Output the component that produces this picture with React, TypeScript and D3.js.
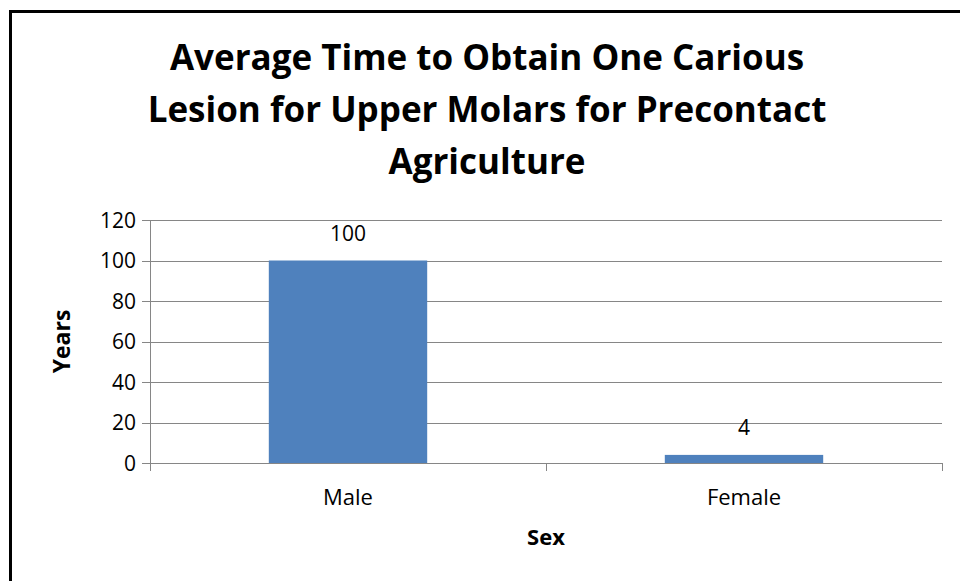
import React from 'react';
import * as d3 from 'd3';

const categories = ['Male', 'Female'];
const years = [100, 4];
const yTicks = [0, 20, 40, 60, 80, 100, 120];
const titleLines = [
  'Average Time to Obtain One Carious',
  'Lesion for Upper Molars for Precontact',
  'Agriculture',
];

const W = 960;
const H = 581;
const plot = { left: 150, right: 942, top: 220, bottom: 463 };
const font = "'Open Sans', 'Liberation Sans', sans-serif";
const gridColor = '#868686';

const App: React.FC = () => {
  const x = d3.scaleBand<string>()
    .domain(categories)
    .range([plot.left, plot.right])
    .paddingInner(0.6)
    .paddingOuter(0.3);
  const y = d3.scaleLinear().domain([0, 120]).range([plot.bottom, plot.top]);

  const step = x.step();
  // category boundaries for the tick marks on the x axis
  const bounds = [plot.left, ...categories.map((c) => (x(c) ?? 0) - step * 0.3 + step)];

  return (
    <div style={{ position: 'absolute', left: 0, top: 0 }}>
      <svg width={W} height={H} style={{ display: 'block', background: '#fff' }} fontFamily={font}>
        <rect x={10.5} y={11.5} width={W + 20} height={H + 20} fill="#fff" stroke="#000" strokeWidth={3} />

        {titleLines.map((t, i) => (
          <text key={t} x={487} y={70 + i * 52} textAnchor="middle" fontSize={35} fontWeight="bold" fill="#000">
            {t}
          </text>
        ))}

        {/* gridlines */}
        {yTicks.map((t) => (
          <line key={t} x1={plot.left - 8} x2={plot.right} y1={Math.round(y(t)) + 0.5} y2={Math.round(y(t)) + 0.5}
            stroke={gridColor} strokeWidth={1} />
        ))}
        {/* y axis */}
        <line x1={plot.left + 0.5} x2={plot.left + 0.5} y1={plot.top} y2={plot.bottom + 8} stroke={gridColor} strokeWidth={1} />
        {bounds.map((b, i) => (
          <line key={i} x1={Math.round(b) + 0.5} x2={Math.round(b) + 0.5} y1={plot.bottom} y2={plot.bottom + 8}
            stroke={gridColor} strokeWidth={1} />
        ))}
        {yTicks.map((t) => (
          <text key={t} x={plot.left - 14} y={y(t)} dy="0.36em" textAnchor="end" fontSize={21} fill="#000">
            {t}
          </text>
        ))}

        {/* bars */}
        {categories.map((c, i) => (
          <g key={c}>
            <rect x={x(c)} y={y(years[i])} width={x.bandwidth()} height={plot.bottom - y(years[i])} fill="#4F81BD" />
            <text x={(x(c) ?? 0) + x.bandwidth() / 2} y={y(years[i]) - 20} textAnchor="middle" fontSize={21} fill="#000">
              {years[i]}
            </text>
            <text x={(x(c) ?? 0) + x.bandwidth() / 2} y={505} textAnchor="middle" fontSize={22} fill="#000">
              {c}
            </text>
          </g>
        ))}

        <text x={(plot.left + plot.right) / 2} y={545} textAnchor="middle" fontSize={22} fontWeight="bold" fill="#000">
          Sex
        </text>
        <text transform={`translate(70, ${(plot.top + plot.bottom) / 2}) rotate(-90)`} textAnchor="middle"
          fontSize={23} fontWeight="bold" fill="#000">
          Years
        </text>
      </svg>
    </div>
  );
};

export default App;
